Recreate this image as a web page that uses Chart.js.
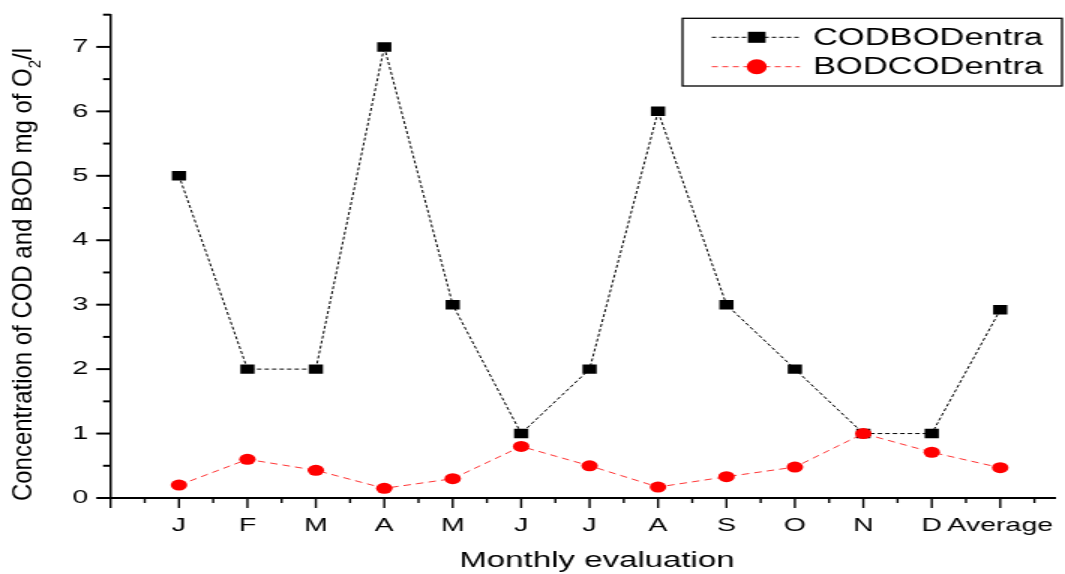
<!DOCTYPE html>
<html>
<head>
<meta charset="utf-8">
<script src="https://cdn.jsdelivr.net/npm/chart.js@4.4.1/dist/chart.umd.min.js"></script>
<style>
  html, body { margin: 0; padding: 0; background: #fff; overflow: hidden; }
  /* the reference is stretched sideways, so the chart is drawn narrow and widened */
  #wrap { width: 710px; height: 574px; transform: scaleX(1.5); transform-origin: 0 0; }
</style>
</head>
<body>
<div id="wrap"><canvas id="chart" width="710" height="574"></canvas></div>
<script>
// Data
const months = ["J", "F", "M", "A", "M", "J", "J", "A", "S", "O", "N", "D", "Average"];
const codValues = [5, 2, 2, 7, 3, 1, 2, 6, 3, 2, 1, 1, 2.92];
const bodValues = [0.2, 0.6, 0.43, 0.15, 0.3, 0.8, 0.5, 0.17, 0.33, 0.48, 1.0, 0.71, 0.47];
const yTickValues = [0, 1, 2, 3, 4, 5, 6, 7];
const seriesNames = ["CODBODentra", "BODCODentra"];

const FONT = "'Liberation Sans', Arial, sans-serif";

// Minor and major tick marks, drawn outward like the original plot
const axisTicks = {
  id: "axisTicks",
  afterDraw(chart) {
    const { ctx, chartArea, scales } = chart;
    ctx.save();
    ctx.strokeStyle = "#000";
    ctx.lineWidth = 2;
    for (let v = 0; v <= 7.5; v += 0.5) {
      const py = scales.y.getPixelForValue(v);
      const len = v % 1 === 0 ? 9.5 : 5;
      ctx.beginPath();
      ctx.moveTo(chartArea.left - len, py);
      ctx.lineTo(chartArea.left, py);
      ctx.stroke();
    }
    ctx.lineWidth = 1.4;
    for (let v = 0; v <= 13.5; v += 0.5) {
      const px = scales.x.getPixelForValue(v);
      const len = v % 1 === 0 ? 10 : 5;
      ctx.beginPath();
      ctx.moveTo(px, chartArea.bottom);
      ctx.lineTo(px, chartArea.bottom + len);
      ctx.stroke();
    }
    ctx.restore();
  }
};

// Axis titles (y title has a subscript, so it is drawn by hand)
const axisTitles = {
  id: "axisTitles",
  afterDraw(chart) {
    const { ctx } = chart;
    ctx.save();
    ctx.fillStyle = "#000";
    ctx.font = "22px " + FONT;
    ctx.textAlign = "center";
    ctx.textBaseline = "alphabetic";
    ctx.fillText("Monthly evaluation", 398, 566.5);

    const main = "Concentration of COD and BOD mg of O";
    const sub = "2";
    const rest = "/l";
    ctx.font = "17.6px " + FONT;
    const w1 = ctx.measureText(main).width;
    const w3 = ctx.measureText(rest).width;
    ctx.font = "11px " + FONT;
    const w2 = ctx.measureText(sub).width;
    const total = w1 + w2 + w3;
    const sx = 453 / total;
    ctx.translate(21.1, 274.5);
    ctx.rotate(-Math.PI / 2);
    ctx.scale(sx, 1);
    ctx.textAlign = "left";
    const x0 = -total / 2;
    ctx.font = "17.6px " + FONT;
    ctx.fillText(main, x0, 0);
    ctx.font = "11px " + FONT;
    ctx.fillText(sub, x0 + w1, 6);
    ctx.font = "17.6px " + FONT;
    ctx.fillText(rest, x0 + w1 + w2, 0);
    ctx.restore();
  }
};

// Boxed legend in the top right corner
const boxLegend = {
  id: "boxLegend",
  afterDraw(chart) {
    const { ctx } = chart;
    ctx.save();
    ctx.strokeStyle = "#000";
    ctx.lineWidth = 1.3;
    ctx.strokeRect(455, 18.3, 253, 67.7);

    // row 1
    ctx.lineWidth = 1;
    ctx.setLineDash([3, 2]);
    ctx.strokeStyle = "#000";
    ctx.beginPath();
    ctx.moveTo(474.5, 37.3);
    ctx.lineTo(533.3, 37.3);
    ctx.stroke();
    ctx.setLineDash([]);
    ctx.fillStyle = "#000";
    ctx.fillRect(504.5 - 5.9, 37.3 - 5.5, 11.8, 11);

    // row 2
    ctx.setLineDash([4, 3]);
    ctx.strokeStyle = "rgba(255,0,0,0.8)";
    ctx.beginPath();
    ctx.moveTo(474.5, 66.7);
    ctx.lineTo(533.3, 66.7);
    ctx.stroke();
    ctx.setLineDash([]);
    ctx.fillStyle = "#ff0000";
    ctx.beginPath();
    ctx.ellipse(504.5, 66.7, 6.7, 7.5, 0, 0, Math.PI * 2);
    ctx.fill();

    ctx.fillStyle = "#000";
    ctx.font = "23px " + FONT;
    ctx.textAlign = "left";
    ctx.textBaseline = "alphabetic";
    ctx.fillText(seriesNames[0], 542, 45);
    ctx.fillText(seriesNames[1], 542, 74.3);
    ctx.restore();
  }
};

function noPadding(scale) {
  scale.paddingLeft = 0;
  scale.paddingRight = 0;
  scale.paddingTop = 0;
  scale.paddingBottom = 0;
}

const ctx = document.getElementById("chart").getContext("2d");
new Chart(ctx, {
  type: "line",
  data: {
    datasets: [
      {
        label: seriesNames[0],
        data: codValues.map((v, i) => ({ x: i + 1, y: v })),
        borderColor: "#000",
        borderWidth: 1,
        borderDash: [3, 2],
        pointStyle: "rect",
        pointRadius: 6.7,
        pointBorderWidth: 0,
        pointBackgroundColor: "#000",
        order: 2
      },
      {
        label: seriesNames[1],
        data: bodValues.map((v, i) => ({ x: i + 1, y: v })),
        borderColor: "rgba(255,0,0,0.8)",
        borderWidth: 1,
        borderDash: [5, 3.5],
        pointStyle: "circle",
        pointRadius: 5.5,
        pointBorderWidth: 0,
        pointBackgroundColor: "#ff0000",
        order: 1
      }
    ]
  },
  options: {
    responsive: false,
    animation: false,
    devicePixelRatio: 1,
    layout: { padding: { top: 14.7, right: 0, left: 0, bottom: 0 } },
    plugins: {
      legend: { display: false },
      tooltip: { enabled: false }
    },
    scales: {
      x: {
        type: "linear",
        min: 0,
        max: 13.8,
        grid: { display: false, drawTicks: false },
        border: { display: true, color: "#000", width: 2 },
        ticks: {
          autoSkip: false,
          maxRotation: 0,
          padding: 16,
          color: "#000",
          font: { family: FONT, size: 19 },
          callback: value => (Number.isInteger(value) && value >= 1 && value <= months.length ? months[value - 1] : "")
        },
        afterBuildTicks: scale => {
          scale.ticks = months.map((m, i) => ({ value: i + 1 }));
        },
        afterFit: scale => {
          scale.height = 76;
          noPadding(scale);
        }
      },
      y: {
        min: 0,
        max: 7.5,
        grid: { display: false, drawTicks: false },
        border: { display: true, color: "#000", width: 1.5 },
        ticks: {
          padding: 15,
          color: "#000",
          font: { family: FONT, size: 19 },
          callback: value => value
        },
        afterBuildTicks: scale => {
          scale.ticks = yTickValues.map(v => ({ value: v }));
        },
        afterFit: scale => {
          scale.width = 73.7;
          noPadding(scale);
        }
      }
    }
  },
  plugins: [axisTicks, axisTitles, boxLegend]
});
</script>
</body>
</html>
